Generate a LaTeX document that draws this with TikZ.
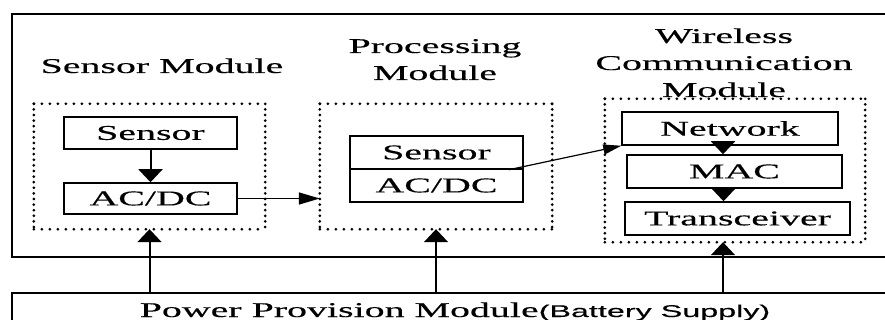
\documentclass[tikz,border=0pt]{standalone}
\usepackage{fontspec}
\setmainfont{Liberation Serif}[FakeStretch=1.9,FakeBold=0.3]
\setsansfont{Liberation Sans}[FakeStretch=1.9,FakeBold=0.2]
\usepackage{tikz}
\usetikzlibrary{positioning,arrows.meta}

\begin{document}
\begin{tikzpicture}[x=1pt,y=-1pt,
  blockbox/.style={rectangle,draw,line width=1.5pt,inner sep=0pt,
    font=\fontsize{21}{24}\selectfont},
  groupbox/.style={rectangle,inner sep=0pt},
  hdots/.style={line width=3pt,line cap=round,dash pattern=on 0pt off 8pt},
  vdots/.style={line width=3pt,line cap=round,dash pattern=on 0pt off 5.6pt},
  modtitle/.style={align=center,inner sep=0pt,anchor=base,
    font=\fontsize{21}{27}\selectfont},
  harrow/.style={line width=1.5pt,-{Triangle[length=21pt,width=12pt]}},
  varrow/.style={line width=2pt,-{Triangle[length=13pt,width=24pt]}}]
\useasboundingbox (0,0) rectangle (885,320);

% frames
\draw[line width=1.6pt] (12,14) rectangle (900,257);
\draw[line width=1.6pt] (12,293) rectangle (900,340);
\coordinate (ptop) at (0,293);

% sensor module
\node[modtitle] (stitle) at (162,73) {Sensor Module};
\node[groupbox,minimum width=231pt,minimum height=125pt] (sgrp) at (149.5,166.5) {};
\node[blockbox,minimum width=173pt,minimum height=32pt] (sens) at (150.5,133) {Sensor};
\node[blockbox,minimum width=173pt,minimum height=31pt] (acdc) at (150.5,198.5) {AC/DC};

% processing module (base = last line)
\node[modtitle] (ptitle) at (435,80) {Processing\\Module};
\node[groupbox,minimum width=232pt,minimum height=125pt] (pgrp) at (436,166.5) {};
\node[blockbox,minimum width=173pt,minimum height=33pt] (psens) at (436.5,152.5) {Sensor};
\node[blockbox,minimum width=173pt,minimum height=33pt] (pacdc) at (436.5,185.5) {AC/DC};

% wireless communication module
\node[modtitle] (wtitle) at (724,97) {Wireless\\Communication\\Module};
\node[groupbox,minimum width=260pt,minimum height=143pt] (wgrp) at (735,170.5) {};
\node[blockbox,minimum width=216pt,minimum height=33pt] (netw) at (730,128.5) {Network};
\node[blockbox,minimum width=215pt,minimum height=33pt] (mac) at (734.5,171.5) {MAC};
\node[blockbox,minimum width=225pt,minimum height=33pt] (trx) at (737.5,218.5) {Transceiver};

% dotted outlines of the modules
\foreach \g in {sgrp,pgrp,wgrp}{
  \draw[hdots] (\g.north west) -- (\g.north east) (\g.south west) -- (\g.south east);
  \draw[vdots] (\g.north west) -- (\g.south west) (\g.north east) -- (\g.south east);
}

% power provision
\node[inner sep=0pt,anchor=base,font=\fontsize{21}{24}\selectfont] (power) at (455,317)
  {Power Provision Module{\sffamily\fontsize{17}{20}\selectfont(Battery Supply)}};

% connectors
\draw[varrow] (sens) -- (acdc);
\draw[harrow] (acdc.east) -- (acdc.east -| pgrp.west);
\draw[line width=1.2pt,-{Triangle[length=18pt,width=10pt]}] ([xshift=-15pt]psens.south east) -- (netw.south west);
\draw[varrow] ([xshift=-7pt]netw.south) -- ([xshift=-7pt]netw.south |- mac.north);
\draw[varrow] ([xshift=-11pt]mac.south) -- ([xshift=-11pt]mac.south |- trx.north);
\draw[varrow] (sgrp.south |- ptop) -- (sgrp.south);
\draw[varrow] (pgrp.south |- ptop) -- (pgrp.south);
\draw[varrow] ([xshift=-12pt]wgrp.south |- ptop) -- ([xshift=-12pt]wgrp.south);
\end{tikzpicture}
\end{document}
